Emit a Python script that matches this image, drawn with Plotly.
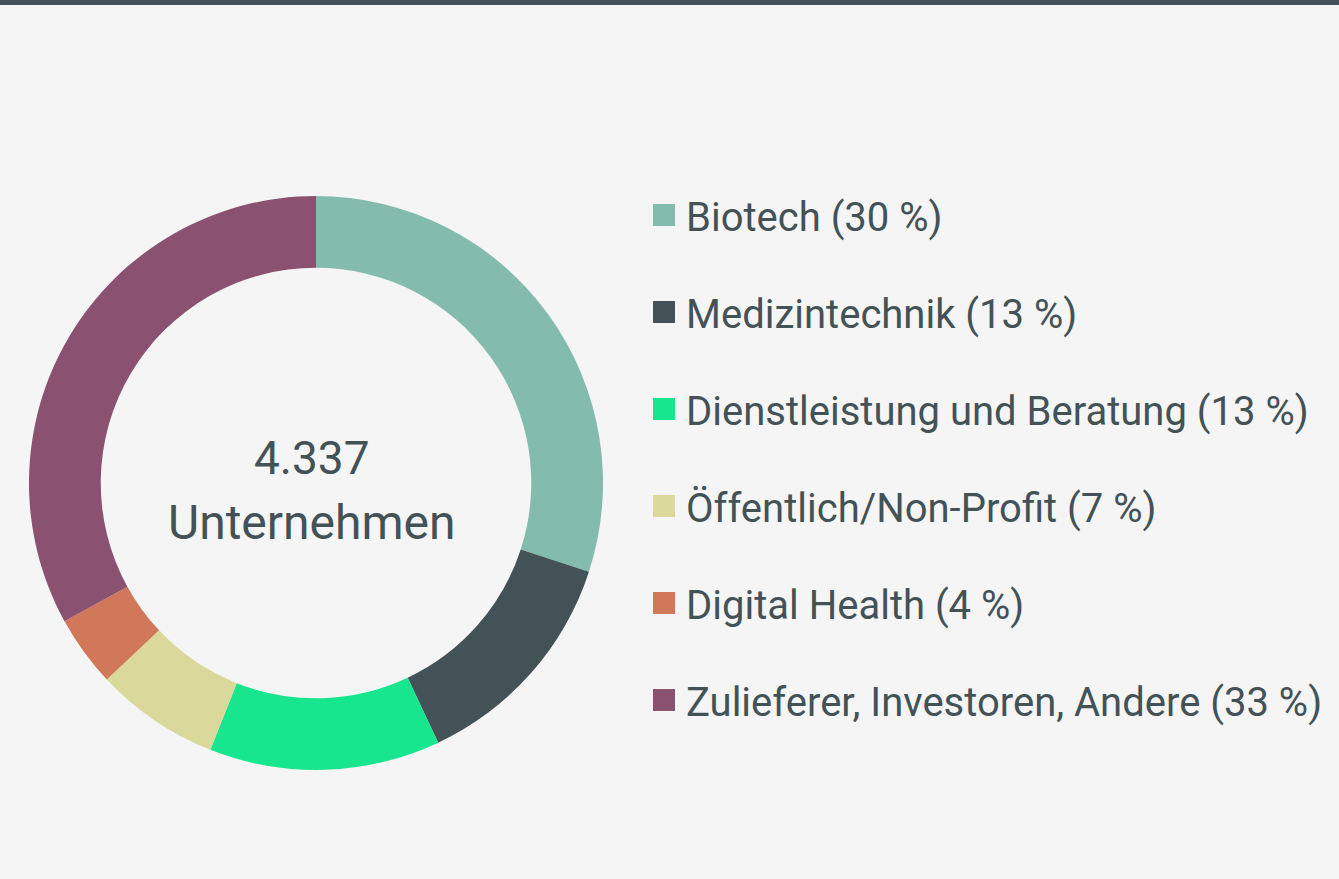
import plotly.graph_objects as go

categories = ["Biotech", "Medizintechnik", "Dienstleistung und Beratung",
              "Öffentlich/Non-Profit", "Digital Health", "Zulieferer, Investoren, Andere"]
shares = [30, 13, 13, 7, 4, 33]
colors = ["#83bcad", "#435256", "#17e68f", "#dbd89c", "#d1785a", "#8a5170"]
total_label = "4.337"
total_caption = "Unternehmen"

W, H = 1339, 879
TEXT = "#435256"
FONT = "Roboto"

fig = go.Figure()
fig.add_trace(go.Pie(
    labels=categories, values=shares, marker=dict(colors=colors, line=dict(width=0)),
    hole=0.75, sort=False, direction="clockwise", rotation=0,
    textinfo="none", showlegend=False,
    domain=dict(x=[29 / W, 603 / W], y=[1 - 770 / H, 1 - 196 / H]),
))

# centre text
fig.add_annotation(x=312 / W, y=1 - 458 / H, xref="paper", yref="paper", text=total_label,
                   showarrow=False, font=dict(family=FONT, size=46, color=TEXT), xanchor="center", yanchor="middle")
fig.add_annotation(x=312 / W, y=1 - 522 / H, xref="paper", yref="paper", text=total_caption,
                   showarrow=False, font=dict(family=FONT, size=48, color=TEXT), xanchor="center", yanchor="middle")

# legend
shapes = [dict(type="rect", xref="paper", yref="paper", x0=0, x1=1, y0=1 - 5 / H, y1=1,
               fillcolor=TEXT, line=dict(width=0))]
for i, (cat, v, c) in enumerate(zip(categories, shares, colors)):
    yc = 215 + i * 97
    shapes.append(dict(type="rect", xref="paper", yref="paper",
                       x0=653 / W, x1=675 / W, y0=1 - (yc + 11) / H, y1=1 - (yc - 11) / H,
                       fillcolor=c, line=dict(width=0)))
    fig.add_annotation(x=684 / W, y=1 - (yc + 2) / H, xref="paper", yref="paper",
                       text=f"{cat} ({v} %)", showarrow=False,
                       font=dict(family=FONT, size=40, color=TEXT), xanchor="left", yanchor="middle")

fig.update_layout(width=W, height=H, margin=dict(l=0, r=0, t=0, b=0),
                  paper_bgcolor="#f5f5f5", plot_bgcolor="#f5f5f5", shapes=shapes)
fig.write_html("out.html")
